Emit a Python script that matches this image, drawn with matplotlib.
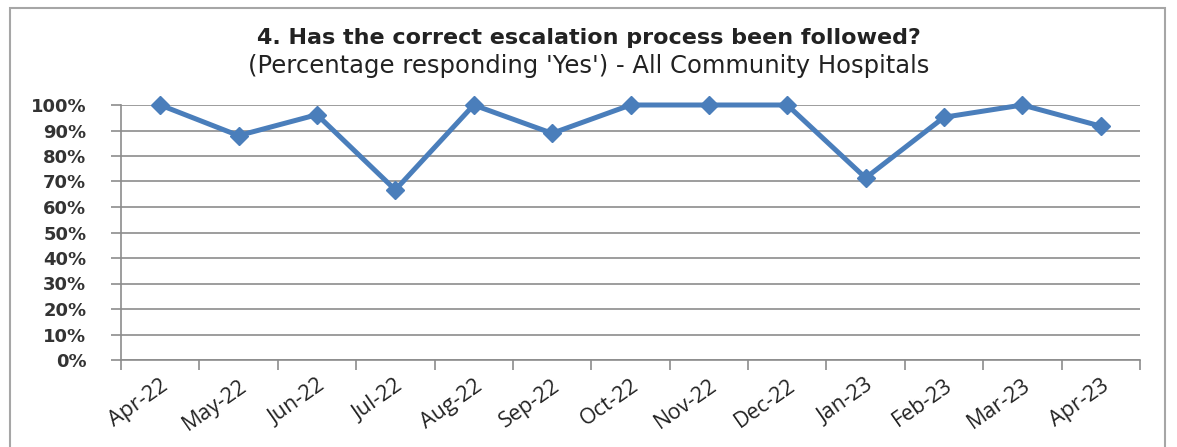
import matplotlib
matplotlib.use('Agg')
import matplotlib.pyplot as plt
import numpy as np
from matplotlib.patches import Rectangle
from matplotlib.ticker import FixedLocator, PercentFormatter

months = ['Apr-22', 'May-22', 'Jun-22', 'Jul-22', 'Aug-22', 'Sep-22', 'Oct-22',
          'Nov-22', 'Dec-22', 'Jan-23', 'Feb-23', 'Mar-23', 'Apr-23']
pct_yes = [1.00, 0.88, 0.962, 0.667, 1.00, 0.889, 1.00,
           1.00, 1.00, 0.714, 0.952, 1.00, 0.917]

LINE = '#4A7EBB'
GRID = '#8c8c8c'
TEXT = '#222222'

fig = plt.figure(figsize=(11.77, 4.47), dpi=100)
fig.patches.append(Rectangle((10 / 1177, -0.05), 1155 / 1177, 1.05 - 8 / 447,
                             transform=fig.transFigure, fill=False,
                             edgecolor='#a6a6a6', linewidth=1.5))

ax = fig.add_axes([121 / 1177, 87 / 447, (1140 - 121) / 1177, (360 - 105) / 447])
x = np.arange(len(months))
ax.plot(x, pct_yes, color=LINE, linewidth=3.6, marker='D', markersize=9.5,
        markerfacecolor=LINE, markeredgecolor=LINE, clip_on=False, zorder=3)

ax.set_xlim(-0.5, len(months) - 0.5)
ax.set_ylim(0, 1)
ax.set_yticks(np.arange(0, 1.01, 0.1))
ax.yaxis.set_major_formatter(PercentFormatter(1.0, decimals=0))
ax.grid(axis='y', color=GRID, linewidth=1.2)
ax.set_axisbelow(True)

ax.set_xticks(x)
ax.set_xticklabels(months, rotation=35, ha='right', rotation_mode='anchor',
                   family='Open Sans', fontsize=15.5, color=TEXT)
ax.xaxis.set_minor_locator(FixedLocator(np.arange(-0.5, len(months), 1)))
ax.tick_params(axis='x', which='major', length=0, pad=11)
ax.tick_params(axis='x', which='minor', length=7, color=GRID, width=1.2)
ax.tick_params(axis='y', length=7, color=GRID, width=1.2, pad=18)
for lbl in ax.get_yticklabels():
    lbl.set_family('DejaVu Sans')
    lbl.set_fontweight('bold')
    lbl.set_fontsize(13)
    lbl.set_color('#333333')

for s in ['top', 'right']:
    ax.spines[s].set_visible(False)
for s in ['left', 'bottom']:
    ax.spines[s].set_color(GRID)
    ax.spines[s].set_linewidth(1.2)

fig.text(0.5, 1 - 38 / 447, '4. Has the correct escalation process been followed?',
         ha='center', va='center', family='DejaVu Sans', fontweight='bold',
         fontsize=16, color=TEXT)
fig.text(0.5, 1 - 66 / 447, "(Percentage responding 'Yes') - All Community Hospitals",
         ha='center', va='center', family='DejaVu Sans', fontsize=17.5, color=TEXT)

fig.savefig('out.png', dpi=100)
